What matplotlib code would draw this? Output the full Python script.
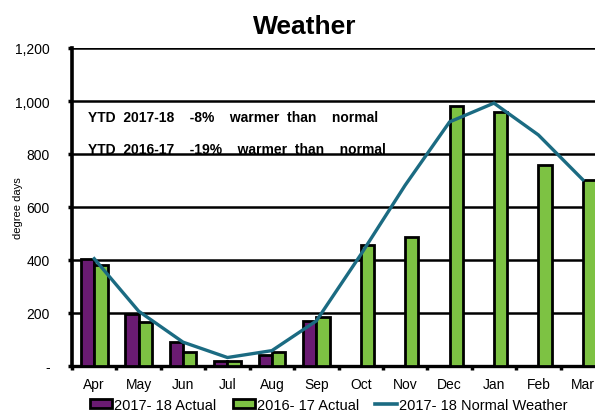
import matplotlib
matplotlib.use("Agg")
import matplotlib.pyplot as plt
import numpy as np
from matplotlib.patches import Patch
from matplotlib.lines import Line2D

plt.rcParams["font.family"] = ["Liberation Sans", "DejaVu Sans"]

months = ["Apr", "May", "Jun", "Jul", "Aug", "Sep", "Oct", "Nov", "Dec", "Jan", "Feb", "Mar"]
actual_1718 = [405, 195, 90, 20, 40, 170, None, None, None, None, None, None]
actual_1617 = [380, 165, 53, 20, 52, 185, 458, 485, 980, 958, 760, 703]
normal_1718 = [405, 207, 90, 32, 58, 170, 420, 682, 921, 992, 872, 703]
y_ticks = [0, 200, 400, 600, 800, 1000, 1200]
y_tick_labels = ["-", "200", "400", "600", "800", "1,000", "1,200"]
notes = ["YTD  2017-18    -8%    warmer  than    normal",
         "YTD  2016-17    -19%    warmer  than    normal"]

purple = "#6a1b72"
green = "#7dc243"
teal = "#1b6b82"

x = np.arange(len(months))
a1718 = np.array([np.nan if v is None else v for v in actual_1718], dtype=float)

fig = plt.figure(figsize=(5.95, 4.14), dpi=100)
ax = fig.add_axes([72 / 595, 47 / 414, 533 / 595, 318 / 414])

w = 0.3
ax.bar(x - w / 2, a1718, width=w, color=purple, edgecolor="black", linewidth=2.0, zorder=3)
ax.bar(x + w / 2, actual_1617, width=w, color=green, edgecolor="black", linewidth=2.0, zorder=3)
ax.plot(x, normal_1718, color=teal, linewidth=2.4, zorder=4, solid_joinstyle="miter")

ax.set_xlim(-0.5, len(months) - 0.5)
ax.set_ylim(0, 1200)
ax.set_yticks(y_ticks)
ax.set_yticklabels(y_tick_labels, fontsize=10)
ax.yaxis.grid(True, color="black", linewidth=1.8, zorder=0)
ax.set_axisbelow(True)

ax.set_xticks(x)
ax.set_xticklabels(months, fontsize=10)
ax.tick_params(axis="x", which="major", length=0, pad=8)
ax.set_xticks(np.arange(-0.5, len(months), 1), minor=True)
ax.tick_params(axis="x", which="minor", length=3, width=2.5, direction="out")
ax.tick_params(axis="y", length=3, width=2.5, pad=13)

for side in ["top", "right"]:
    ax.spines[side].set_visible(False)
ax.spines["left"].set_linewidth(2.6)
ax.spines["bottom"].set_linewidth(2.4)

ax.set_ylabel("degree days", fontsize=8)
ax.yaxis.set_label_coords(-0.092, 0.5)
fig.text(305 / 595, 1 - 27 / 414, "Weather", ha="center", va="center",
         fontsize=19, fontweight="bold")

ax.text(0.03, 0.783, notes[0], transform=ax.transAxes, fontsize=10,
        fontweight="bold", va="center", zorder=5)
ax.text(0.03, 0.682, notes[1], transform=ax.transAxes, fontsize=10,
        fontweight="bold", va="center", zorder=5)

handles = [
    Patch(facecolor=purple, edgecolor="black", linewidth=2.0),
    Patch(facecolor=green, edgecolor="black", linewidth=2.0),
    Line2D([0], [0], color=teal, linewidth=2.6),
]
labels = ["2017- 18 Actual", "2016- 17 Actual", "2017- 18 Normal Weather"]
fig.legend(handles, labels, loc="center", bbox_to_anchor=(329 / 595, 1 - 406 / 414),
           ncol=3, frameon=False, fontsize=10.5, handlelength=1.5, handleheight=0.6,
           handletextpad=0.15, columnspacing=1.1, borderaxespad=0)

fig.savefig("out.png", dpi=100)
